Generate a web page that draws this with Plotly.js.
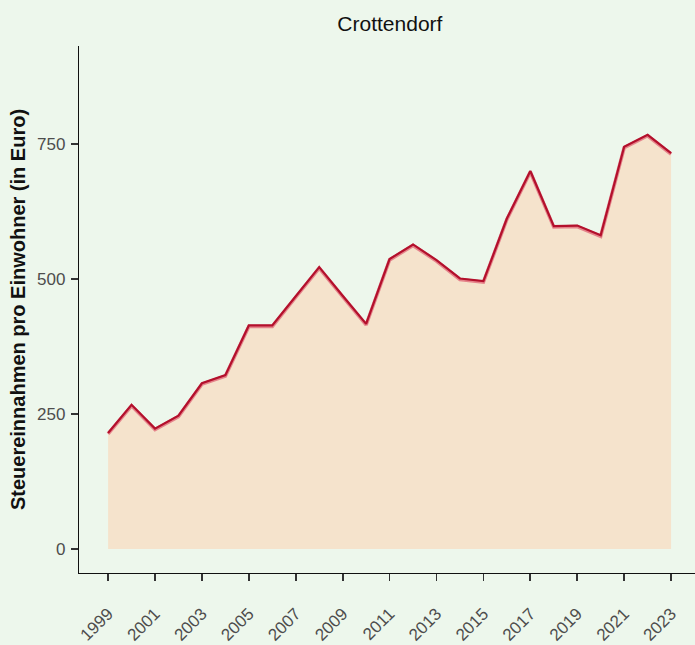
<!DOCTYPE html>
<html>
<head>
<meta charset="utf-8">
<script src="https://cdn.plot.ly/plotly-3.0.1.min.js"></script>
<style>html,body{margin:0;padding:0;background:#edf7ec;}</style>
</head>
<body>
<div id="chart" style="width:695px;height:645px;"></div>
<script>
const years = [1999,2000,2001,2002,2003,2004,2005,2006,2007,2008,2009,2010,2011,2012,2013,2014,2015,2016,2017,2018,2019,2020,2021,2022,2023];
const values = [215,267,223,247,307,322,414,414,468,522,469,417,537,564,535,501,496,612,700,598,599,581,745,767,733];
const tickYears = [1999,2001,2003,2005,2007,2009,2011,2013,2015,2017,2019,2021,2023];
const yTicks = [0,250,500,750];
const titleText = 'Crottendorf';
const yTitle = 'Steuereinnahmen pro Einwohner (in Euro)';

const traces = [
  {x: years, y: values, type: 'scatter', mode: 'lines', fill: 'tozeroy',
   fillcolor: '#f5e3cc', line: {color: 'rgba(0,0,0,0)', width: 0}, hoverinfo: 'skip'},
  {x: years, y: values.map(v => v - 1.8), type: 'scatter', mode: 'lines',
   line: {color: 'rgba(222,90,110,0.7)', width: 3.5}, hoverinfo: 'skip'},
  {x: years, y: values, type: 'scatter', mode: 'lines',
   line: {color: '#b3102c', width: 2.2}}
];

const layout = {
  width: 695, height: 645,
  paper_bgcolor: '#edf7ec', plot_bgcolor: '#edf7ec',
  margin: {l: 79, r: 0, t: 46, b: 72},
  showlegend: false,
  font: {family: 'Liberation Sans, Arial, sans-serif'},
  title: {text: titleText, x: 0.561, xanchor: 'center', y: 0.9635, yanchor: 'middle',
          font: {size: 21, color: '#111'}},
  xaxis: {range: [1997.76, 2024.02], tickvals: tickYears, ticktext: tickYears.map(String),
          tickangle: -45, ticks: 'outside', ticklen: 7, tickwidth: 1.8, tickcolor: '#333',
          ticklabelstandoff: 16,
          showline: true, linecolor: '#111', linewidth: 1.2, showgrid: false, zeroline: false,
          tickfont: {size: 17, color: '#4d4d4d'}},
  yaxis: {range: [-44.4, 931.5], tickvals: yTicks, ticktext: yTicks.map(String),
          ticks: 'outside', ticklen: 7, tickwidth: 1.8, tickcolor: '#333',
          ticklabelstandoff: 2,
          showline: true, linecolor: '#111', linewidth: 1.2, showgrid: false, zeroline: false,
          tickfont: {size: 17, color: '#4d4d4d'},
          title: {text: '<b>' + yTitle + '</b>', font: {size: 20, color: '#111'}, standoff: 6}}
};

Plotly.newPlot('chart', traces, layout, {displayModeBar: false, staticPlot: true});
</script>
</body>
</html>
